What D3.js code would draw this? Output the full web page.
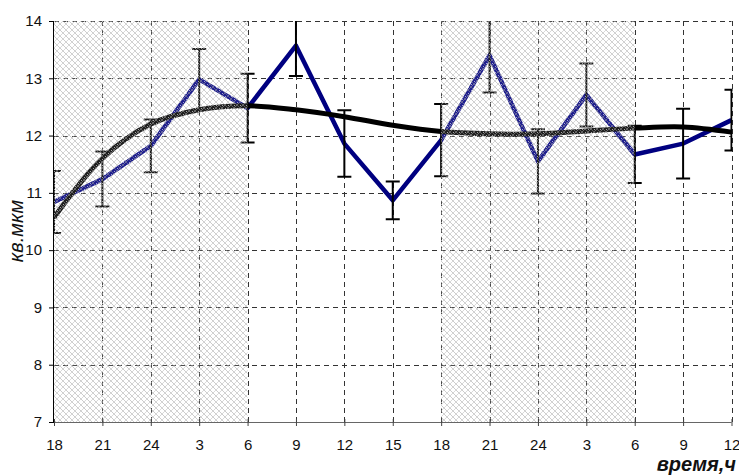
<!DOCTYPE html>
<html>
<head>
<meta charset="utf-8">
<script src="https://cdn.jsdelivr.net/npm/d3@7"></script>
<style>
  body { margin: 0; background: #fff; }
  svg { display: block; font-family: "Liberation Sans", Arial, sans-serif; }
</style>
</head>
<body>
<div id="chart"></div>
<script>
// hour labels along the x axis (two days)
const hours = ["18", "21", "24", "3", "6", "9", "12", "15", "18", "21", "24", "3", "6", "9", "12"];
// measured mean values, кв.мкм
const meanValues = [10.84, 11.24, 11.82, 12.98, 12.48, 13.57, 11.86, 10.87, 11.92, 13.40, 11.55, 12.71, 11.67, 11.86, 12.27];
// half-length of the error bars
const errValues = [0.54, 0.48, 0.46, 0.53, 0.60, 0.53, 0.58, 0.33, 0.63, 0.65, 0.56, 0.55, 0.50, 0.61, 0.53];
// smoothed trend
const trendValues = [10.57, 11.60, 12.20, 12.45, 12.52, 12.45, 12.33, 12.18, 12.07, 12.03, 12.03, 12.08, 12.13, 12.15, 12.06];
// night periods, as index ranges
const nightSpans = [[0, 4], [8, 12]];
const yTicks = [7, 8, 9, 10, 11, 12, 13, 14];

const width = 739, height = 475;
const plotLeft = 54, plotRight = 731.5, plotTop = 21, plotBottom = 422;

const svg = d3.select('#chart').append('svg')
  .attr('width', width)
  .attr('height', height);

const x = d3.scaleLinear().domain([0, hours.length - 1]).range([plotLeft, plotRight]);
const y = d3.scaleLinear().domain([7, 14]).range([plotBottom, plotTop]);

const defs = svg.append('defs');

// fine dotted cross-hatch used for the night shading
const pat = defs.append('pattern')
  .attr('id', 'hatch')
  .attr('patternUnits', 'userSpaceOnUse')
  .attr('width', 6)
  .attr('height', 6);
pat.append('rect').attr('width', 6).attr('height', 6).attr('fill', '#fff').attr('opacity', 0.12);
d3.range(6).forEach(i => {
  pat.append('rect').attr('x', i).attr('y', i).attr('width', 1).attr('height', 1)
    .attr('fill', '#9a9a9a').attr('opacity', 0.5);
  if (i !== 5 - i) {
    pat.append('rect').attr('x', i).attr('y', 5 - i).attr('width', 1).attr('height', 1)
      .attr('fill', '#b4b4b4').attr('opacity', 0.5);
  }
});
pat.append('rect').attr('x', 3).attr('y', 0).attr('width', 1).attr('height', 1)
  .attr('fill', '#fff').attr('opacity', 0.6);
pat.append('rect').attr('x', 0).attr('y', 3).attr('width', 1).attr('height', 1)
  .attr('fill', '#fff').attr('opacity', 0.6);

defs.append('clipPath').attr('id', 'plot-clip')
  .append('rect')
  .attr('x', plotLeft).attr('y', plotTop)
  .attr('width', plotRight - plotLeft + 1).attr('height', plotBottom - plotTop);

// grid
const grid = svg.append('g')
  .attr('stroke', '#333')
  .attr('stroke-width', 1)
  .attr('stroke-dasharray', '5,4');

grid.selectAll('line.h')
  .data(yTicks.filter(v => v > 7))
  .join('line')
  .attr('class', 'h')
  .attr('x1', plotLeft).attr('x2', plotRight)
  .attr('y1', d => Math.round(y(d)) + 0.5)
  .attr('y2', d => Math.round(y(d)) + 0.5);

grid.selectAll('line.v')
  .data(d3.range(1, hours.length))
  .join('line')
  .attr('class', 'v')
  .attr('x1', d => Math.round(x(d)) + 0.5)
  .attr('x2', d => Math.round(x(d)) + 0.5)
  .attr('y1', plotTop).attr('y2', plotBottom);

const plot = svg.append('g').attr('clip-path', 'url(#plot-clip)');

// measured series
const line = d3.line()
  .x((d, i) => x(i))
  .y(d => y(d));

plot.append('path')
  .attr('d', line(meanValues))
  .attr('fill', 'none')
  .attr('stroke', '#000080')
  .attr('stroke-width', 4.5)
  .attr('stroke-linejoin', 'round');

// trend
const trend = d3.line()
  .x((d, i) => x(i))
  .y(d => y(d))
  .curve(d3.curveCatmullRom.alpha(0.5));

plot.append('path')
  .attr('d', trend(trendValues))
  .attr('fill', 'none')
  .attr('stroke', '#000')
  .attr('stroke-width', 5);

// error bars
const bars = plot.append('g')
  .attr('stroke', '#000')
  .attr('stroke-width', 2);

meanValues.forEach((v, i) => {
  const cx = x(i);
  const y1 = y(v + errValues[i]);
  const y2 = y(v - errValues[i]);
  bars.append('line').attr('x1', cx).attr('x2', cx).attr('y1', y1).attr('y2', y2);
  bars.append('line').attr('x1', cx - 7).attr('x2', cx + 7).attr('y1', y1).attr('y2', y1);
  bars.append('line').attr('x1', cx - 7).attr('x2', cx + 7).attr('y1', y2).attr('y2', y2);
});

// night shading sits over the lines
svg.append('g')
  .selectAll('rect')
  .data(nightSpans)
  .join('rect')
  .attr('x', d => x(d[0]))
  .attr('width', d => x(d[1]) - x(d[0]))
  .attr('y', plotTop)
  .attr('height', plotBottom - plotTop)
  .attr('fill', 'url(#hatch)');

// axes
const yAxis = d3.axisLeft(y).tickValues(yTicks).tickFormat(d3.format('d')).tickSize(5).tickPadding(7);
const gy = svg.append('g')
  .attr('transform', `translate(${plotLeft},0)`)
  .call(yAxis)
  .attr('font-size', 15)
  .attr('font-family', null);
gy.select('.domain').attr('stroke', '#000').attr('d', `M-0.5,${plotTop}V${plotBottom}`);
gy.selectAll('.tick line').attr('stroke', '#000');
gy.selectAll('.tick text').attr('fill', '#111');

const xAxis = d3.axisBottom(x)
  .tickValues(d3.range(hours.length))
  .tickFormat(i => hours[i])
  .tickSize(4)
  .tickPadding(13);
const gx = svg.append('g')
  .attr('transform', `translate(0,${plotBottom})`)
  .call(xAxis)
  .attr('font-size', 15)
  .attr('font-family', null);
gx.select('.domain').attr('stroke', '#666').attr('d', `M${plotLeft},0.5H${plotRight}`);
gx.selectAll('.tick line').attr('stroke', '#444').attr('y1', -3);
gx.selectAll('.tick text').attr('fill', '#111');

// axis titles
svg.append('text')
  .attr('transform', 'translate(23,231) rotate(-90)')
  .attr('text-anchor', 'middle')
  .attr('font-size', 20)
  .attr('font-style', 'italic')
  .attr('fill', '#111')
  .text('кв.мкм');

svg.append('text')
  .attr('x', 736)
  .attr('y', 471)
  .attr('text-anchor', 'end')
  .attr('font-size', 20)
  .attr('font-style', 'italic')
  .attr('font-weight', 'bold')
  .attr('fill', '#111')
  .text('время,ч');
</script>
</body>
</html>
